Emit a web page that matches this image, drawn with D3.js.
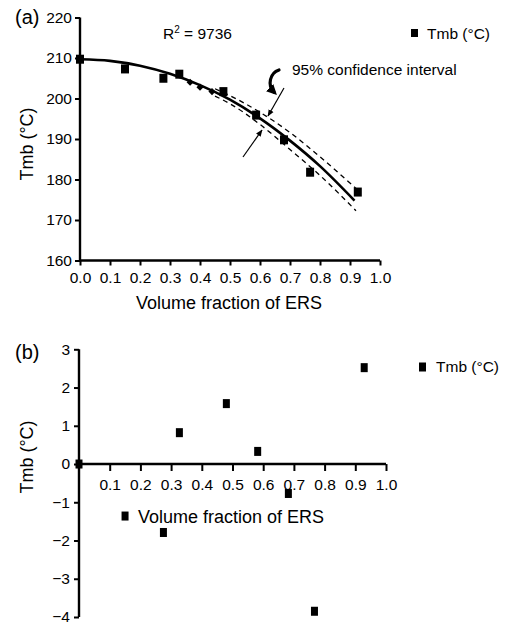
<!DOCTYPE html>
<html><head><meta charset="utf-8">
<script src="https://cdn.jsdelivr.net/npm/d3@7"></script>
<style>body{margin:0;background:#fff}svg{display:block;font-family:"Liberation Sans",Arial,sans-serif}</style>
</head><body>
<svg id="c" width="507" height="626"></svg>
<script>
// ---- Panel (a) data ----
const aX = [0.0, 0.15, 0.278, 0.331, 0.478, 0.587, 0.68, 0.767, 0.926];
const aY = [209.7, 207.3, 205.0, 206.0, 201.7, 195.9, 189.8, 181.8, 176.9];
const aSmallX = [0.367, 0.40, 0.44];
const aSmallY = [204.0, 202.8, 201.7];
const fitX = [0, 0.1, 0.2, 0.3, 0.4, 0.5, 0.6, 0.7, 0.8, 0.915];
const fitY = [209.7, 209.3, 208.1, 206.1, 203.3, 199.7, 195.1, 189.6, 183.3, 174.8];
const ciX = [0.45, 0.5, 0.6, 0.7, 0.8, 0.92];
const ciUpper = [202.4, 200.7, 196.6, 191.6, 185.6, 177.8];
const ciLower = [200.6, 198.7, 193.6, 187.4, 181.0, 172.3];
const aYTicks = [160, 170, 180, 190, 200, 210, 220];
const xTicks = [0, 0.1, 0.2, 0.3, 0.4, 0.5, 0.6, 0.7, 0.8, 0.9, 1.0];
// ---- Panel (b) data ----
const bX = [0.0, 0.15, 0.275, 0.327, 0.48, 0.582, 0.682, 0.767, 0.929];
const bY = [0.0, -1.36, -1.79, 0.82, 1.58, 0.33, -0.77, -3.85, 2.52];
const bYTicks = [-4, -3, -2, -1, 0, 1, 2, 3];
const bXTicks = [0.1, 0.2, 0.3, 0.4, 0.5, 0.6, 0.7, 0.8, 0.9, 1.0];

const svg = d3.select("#c");
const FONT = 15.5;

// ===== Panel (a) =====
const xa = d3.scaleLinear().domain([0, 1]).range([80, 380]);
const ya = d3.scaleLinear().domain([160, 220]).range([260.5, 17.5]);
const ga = svg.append("g");

const yAxisA = ga.append("g").attr("transform", "translate(80,0)")
  .call(d3.axisLeft(ya).tickValues(aYTicks).tickSize(5).tickPadding(3).tickFormat(d3.format("d")));
const xAxisA = ga.append("g").attr("transform", "translate(0,260.5)")
  .call(d3.axisBottom(xa).tickValues(xTicks).tickSize(5).tickPadding(6).tickFormat(d3.format(".1f")));
[yAxisA, xAxisA].forEach(ax => {
  ax.select(".domain").remove();
  ax.selectAll(".tick line").attr("stroke-width", 2);
  ax.selectAll("text").attr("font-size", FONT).attr("fill", "#000").attr("font-family", "Liberation Sans, Arial");
});
ga.append("line").attr("x1", 80).attr("x2", 80).attr("y1", ya(220)).attr("y2", ya(160)+1).attr("stroke", "#000").attr("stroke-width", 2.4);
ga.append("line").attr("x1", 79).attr("x2", xa(1)).attr("y1", ya(160)).attr("y2", ya(160)).attr("stroke", "#000").attr("stroke-width", 2.4);

// CI dashed
const lineGen = d3.line().x(d => xa(d[0])).y(d => ya(d[1])).curve(d3.curveMonotoneX);
ga.append("path").attr("d", lineGen(ciX.map((x, i) => [x, ciUpper[i]])))
  .attr("fill", "none").attr("stroke", "#000").attr("stroke-width", 1.3).attr("stroke-dasharray", "5,4");
ga.append("path").attr("d", lineGen(ciX.map((x, i) => [x, ciLower[i]])))
  .attr("fill", "none").attr("stroke", "#000").attr("stroke-width", 1.3).attr("stroke-dasharray", "5,4");
// Fit line
ga.append("path").attr("d", lineGen(fitX.map((x, i) => [x, fitY[i]])))
  .attr("fill", "none").attr("stroke", "#000").attr("stroke-width", 2.6);
// points
ga.selectAll("rect.pa").data(aX.map((x, i) => [x, aY[i]])).enter().append("rect")
  .attr("x", d => xa(d[0]) - 4).attr("y", d => ya(d[1]) - 4.5).attr("width", 8).attr("height", 9).attr("fill", "#000");
ga.selectAll("rect.ps").data(aSmallX.map((x, i) => [x, aSmallY[i]])).enter().append("rect")
  .attr("x", -2.5).attr("y", -2.5).attr("width", 5).attr("height", 5).attr("fill", "#000")
  .attr("transform", d => `translate(${xa(d[0])},${ya(d[1])}) rotate(45)`);

// arrows
const defs = svg.append("defs");
defs.append("marker").attr("id", "ah").attr("viewBox", "0 0 10 10").attr("refX", 9).attr("refY", 5)
  .attr("markerWidth", 7).attr("markerHeight", 7).attr("orient", "auto").attr("markerUnits", "userSpaceOnUse")
  .append("path").attr("d", "M0,1 L10,5 L0,9 Z").attr("fill", "#000");
defs.append("marker").attr("id", "ah2").attr("viewBox", "0 0 10 10").attr("refX", 6).attr("refY", 5)
  .attr("markerWidth", 3.2).attr("markerHeight", 3.2).attr("orient", "auto")
  .append("path").attr("d", "M0,0 L10,5 L0,10 Z").attr("fill", "#000");
ga.append("line").attr("x1", 284).attr("y1", 88).attr("x2", 268).attr("y2", 116)
  .attr("stroke", "#000").attr("stroke-width", 1.2).attr("marker-end", "url(#ah)");
ga.append("line").attr("x1", 243).attr("y1", 157).attr("x2", 262).attr("y2", 130)
  .attr("stroke", "#000").attr("stroke-width", 1.2).attr("marker-end", "url(#ah)");
ga.append("path").attr("d", "M279,70 C270,73 267,85 274,92")
  .attr("fill", "none").attr("stroke", "#000").attr("stroke-width", 3.2).attr("stroke-linecap", "round")
  .attr("marker-end", "url(#ah2)");

// texts
ga.append("text").attr("x", 15).attr("y", 24).attr("font-size", 20).text("(a)");
const r2 = ga.append("text").attr("x", 163).attr("y", 39).attr("font-size", FONT);
r2.append("tspan").text("R");
r2.append("tspan").attr("font-size", 10).attr("dy", -6).text("2");
r2.append("tspan").attr("dy", 6).text(" = 9736");
ga.append("text").attr("x", 292).attr("y", 75).attr("font-size", FONT).text("95% confidence interval");
ga.append("rect").attr("x", 411).attr("y", 29).attr("width", 7).attr("height", 8).attr("fill", "#000");
ga.append("text").attr("x", 427).attr("y", 39).attr("font-size", FONT).text("Tmb (°C)");
ga.append("text").attr("x", 229).attr("y", 309).attr("text-anchor", "middle").attr("font-size", 18).text("Volume fraction of ERS");
ga.append("text").attr("transform", "translate(33,144) rotate(-90)").attr("text-anchor", "middle").attr("font-size", 18).text("Tmb (°C)");

// ===== Panel (b) =====
const xb = d3.scaleLinear().domain([0, 1]).range([79, 386]);
const yb = d3.scaleLinear().domain([-4, 3]).range([617, 349.3]);
const gb = svg.append("g");
const yAxisB = gb.append("g").attr("transform", "translate(79,0)")
  .call(d3.axisLeft(yb).tickValues(bYTicks).tickSize(5).tickPadding(4).tickFormat(d3.format("d")));
const xAxisB = gb.append("g").attr("transform", `translate(0,${yb(0)})`)
  .call(d3.axisBottom(xb).tickValues(bXTicks).tickSize(7).tickPadding(8).tickFormat(d3.format(".1f")));
[yAxisB, xAxisB].forEach(ax => {
  ax.select(".domain").remove();
  ax.selectAll(".tick line").attr("stroke-width", 2);
  ax.selectAll("text").attr("font-size", FONT).attr("fill", "#000").attr("font-family", "Liberation Sans, Arial");
});
gb.append("line").attr("x1", 79).attr("x2", 79).attr("y1", yb(3)).attr("y2", yb(-4)).attr("stroke", "#000").attr("stroke-width", 2.4);
gb.append("line").attr("x1", 78).attr("x2", xb(1)).attr("y1", yb(0)).attr("y2", yb(0)).attr("stroke", "#000").attr("stroke-width", 2.4);
gb.selectAll("rect.pb").data(bX.map((x, i) => [x, bY[i]])).enter().append("rect")
  .attr("x", d => xb(d[0]) - 3.5).attr("y", d => yb(d[1]) - 4.5).attr("width", 7).attr("height", 9).attr("fill", "#000");
gb.append("rect").attr("x", 419).attr("y", 362.5).attr("width", 7).attr("height", 9).attr("fill", "#000");
gb.append("text").attr("x", 436).attr("y", 372).attr("font-size", FONT).text("Tmb (°C)");
gb.append("text").attr("x", 138).attr("y", 523).attr("font-size", 18).text("Volume fraction of ERS");
gb.append("text").attr("x", 15).attr("y", 359).attr("font-size", 20).text("(b)");
gb.append("text").attr("transform", "translate(33,457) rotate(-90)").attr("text-anchor", "middle").attr("font-size", 18).text("Tmb (°C)");
</script>
</body></html>
